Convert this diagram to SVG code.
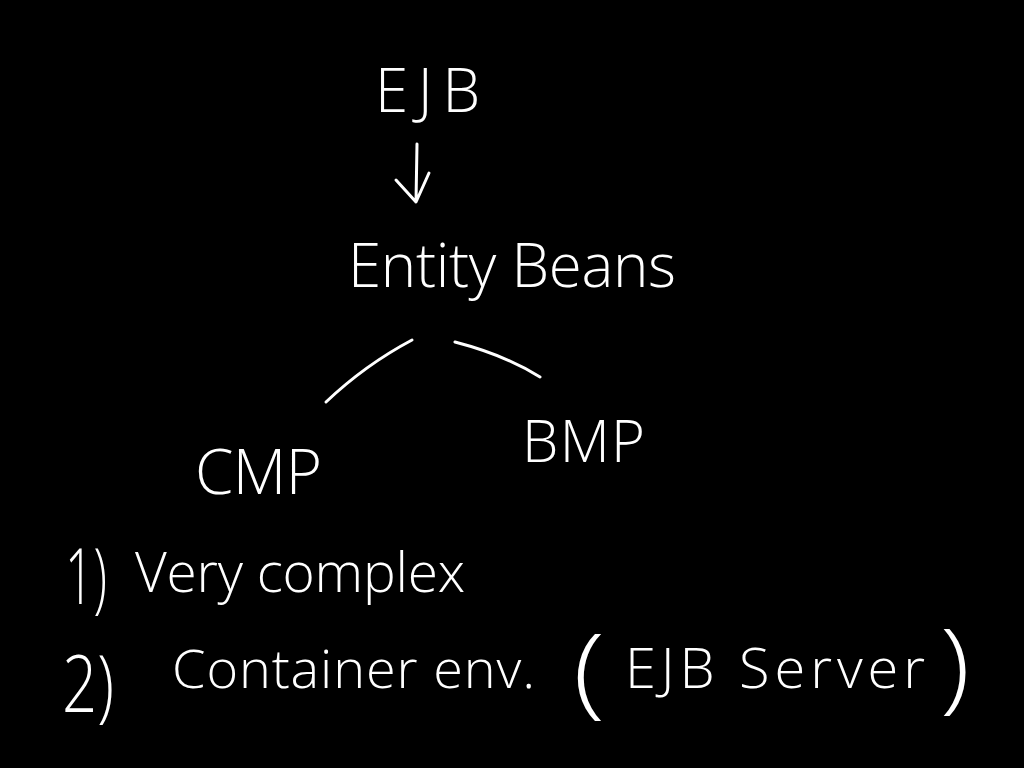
<svg xmlns="http://www.w3.org/2000/svg" width="1024" height="768" viewBox="0 0 1024 768">
<style>
.t{fill:#fff;font-family:"Open Sans","Liberation Sans",sans-serif;font-weight:300}
.c{fill:none;stroke:#fff;stroke-width:3;stroke-linecap:round;stroke-linejoin:round}
</style>
<rect width="1024" height="768" fill="#000"/>
<g id="connectors">
<path class="c" d="M417,144 L416,202 M396,180 L416,202 L429,173"/>
<path class="c" d="M412,340 Q365,365 326,402"/>
<path class="c" d="M455,342 Q505,355 540,377"/>
</g>
<g id="ejb"><text class="t" x="375" y="112" font-size="60" textLength="105" lengthAdjust="spacing">EJB</text></g>
<g id="entity-beans"><text class="t" x="348" y="287" font-size="60" textLength="328" lengthAdjust="spacing">Entity Beans</text></g>
<g id="cmp"><text class="t" x="195" y="494" font-size="62" textLength="127" lengthAdjust="spacing">CMP</text></g>
<g id="bmp"><text class="t" x="522" y="462" font-size="58" textLength="123" lengthAdjust="spacing">BMP</text></g>
<g id="note1">
<text class="t" x="65" y="604" font-size="78" textLength="42" lengthAdjust="spacingAndGlyphs">1)</text>
<text class="t" x="135" y="592" font-size="55" textLength="330" lengthAdjust="spacing">Very complex</text>
</g>
<g id="note2">
<text class="t" x="62" y="712" font-size="80" textLength="52" lengthAdjust="spacingAndGlyphs">2)</text>
<text class="t" x="172" y="688" font-size="54" textLength="363" lengthAdjust="spacing">Container env.</text>
<text class="t" x="573" y="705" font-size="100" textLength="32" lengthAdjust="spacingAndGlyphs">(</text>
<text class="t" x="625" y="688" font-size="56" textLength="300" lengthAdjust="spacing">EJB Server</text>
<text class="t" x="940" y="700" font-size="100" textLength="30" lengthAdjust="spacingAndGlyphs">)</text>
</g>
</svg>
